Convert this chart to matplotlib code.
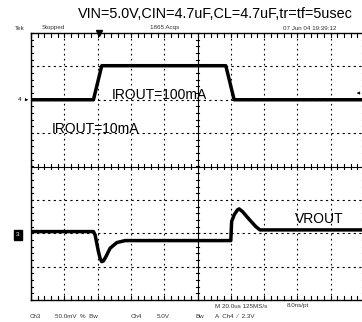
import matplotlib.pyplot as plt
import numpy as np

plt.rcParams['font.family'] = ['Liberation Sans', 'DejaVu Sans']

# Canal 4: corriente de carga IROUT (en divisiones de pantalla), tiempo en us
t_iout = [0, 37.5, 42.5, 117, 122, 200]
iout_div = [2.0, 2.0, 3.02, 3.02, 2.0, 2.0]

# Canal 3: VROUT (en divisiones, 50mV/div)
t_vout = [0, 37.5, 38.5, 39.5, 40.5, 41.5, 42.5, 43.5, 45, 47.5, 51.5, 56.5, 62, 120,
          120.5, 122, 124, 125, 127, 131, 135, 137.5, 200]
vout_div = [-1.95, -1.95, -2.05, -2.3, -2.55, -2.75, -2.85, -2.83, -2.7, -2.45, -2.28, -2.22, -2.22, -2.22,
            -1.65, -1.45, -1.3, -1.27, -1.35, -1.58, -1.8, -1.9, -1.9]

titulo = "VIN=5.0V,CIN=4.7uF,CL=4.7uF,tr=tf=5usec"

W, H = 362, 322
fig = plt.figure(figsize=(W / 100, H / 100), dpi=100)
# reticula de 10x8 divisiones (el borde derecho queda fuera de la imagen)
ax = fig.add_axes([31 / W, (H - 300) / H, (364 - 31) / W, 267 / H])
ax.set_xlim(0, 200)
ax.set_ylim(-4, 4)
ax.set_xticks([])
ax.set_yticks([])
for s in ax.spines.values():
    s.set_linewidth(1.0)

# lineas punteadas de la reticula
for k in range(1, 10):
    if k != 5:
        ax.axvline(k * 20, color='black', lw=0.8, ls=(0, (1.5, 3)))
for k in range(-3, 4):
    if k != 0:
        ax.axhline(k, color='black', lw=0.8, ls=(0, (2, 3)))
ax.axhline(0, color='black', lw=0.8)
ax.axvline(100, color='black', lw=0.8)

# marcas menores en bordes y ejes centrales
xm = np.arange(0, 200.1, 4)
ym = np.arange(-4, 4.01, 0.2)
kw = dict(color='black', lw=0.8, clip_on=False)
for x in xm:
    ax.plot([x, x], [4, 3.88], **kw)
    ax.plot([x, x], [-4, -3.88], **kw)
    ax.plot([x, x], [-0.06, 0.06], **kw)
for y in ym:
    ax.plot([0, 1.5], [y, y], **kw)
    ax.plot([198.5, 200], [y, y], **kw)
    ax.plot([98.8, 101.2], [y, y], **kw)

# trazas
ax.plot(t_iout, iout_div, color='black', lw=2.5, solid_joinstyle='round')
ax.plot(t_vout, vout_div, color='black', lw=2.5, solid_joinstyle='round')

# etiquetas
ax.text(48.5, 2.15, "IROUT=100mA", fontsize=10, va='center')
ax.text(12.5, 1.12, "IROUT=10mA", fontsize=10, va='center')
ax.text(158.5, -1.57, "VROUT", fontsize=10, va='center')

# marcadores de canal y disparo
ax.text(-6, 2.0, "4", fontsize=4.5, ha='right', va='center', clip_on=False)
ax.annotate("", xy=(0, 2.0), xytext=(-5, 2.0),
            arrowprops=dict(arrowstyle='-|>', lw=0.5, color='black', mutation_scale=4),
            annotation_clip=False)
ax.text(-8, -2.05, "3", fontsize=4.5, ha='center', va='center', color='white',
        bbox=dict(boxstyle='square,pad=0.35', fc='black', ec='black'), clip_on=False)
ax.plot(41, 4.0, marker='v', color='black', ms=4, clip_on=False)
ax.annotate("", xy=(194, 2.2), xytext=(199, 2.2),
            arrowprops=dict(arrowstyle='-|>', lw=0.5, color='black', mutation_scale=4),
            annotation_clip=False)

# textos de la pantalla del osciloscopio
fig.text(215 / W, 1 - 14 / H, titulo, fontsize=10.4, ha='center', va='center')
small = dict(fontsize=4.5, color='#333333', va='center')
fig.text(15 / W, 1 - 28 / H, "Tek", **small)
fig.text(42 / W, 1 - 28 / H, "Stopped", **small)
fig.text(165 / W, 1 - 28 / H, "1865 Acqs", ha='center', **small)
fig.text(283 / W, 1 - 28 / H, "07 Jun 04 19:39:12", **small)
fig.text(215 / W, 1 - 306 / H, "M 20.0us 125MS/s", **small)
fig.text(287 / W, 1 - 306 / H, "8.0ns/pt", **small)
fig.text(30 / W, 1 - 316 / H, "Ch3", **small)
fig.text(55 / W, 1 - 316 / H, "50.0mV  %  Bw", **small)
fig.text(131 / W, 1 - 316 / H, "Ch4", **small)
fig.text(157 / W, 1 - 316 / H, "5.0V", **small)
fig.text(195 / W, 1 - 316 / H, "Bw", **small)
fig.text(215 / W, 1 - 316 / H, "A  Ch4  \u2044  2.3V", **small)

fig.savefig("out.png", dpi=100)
